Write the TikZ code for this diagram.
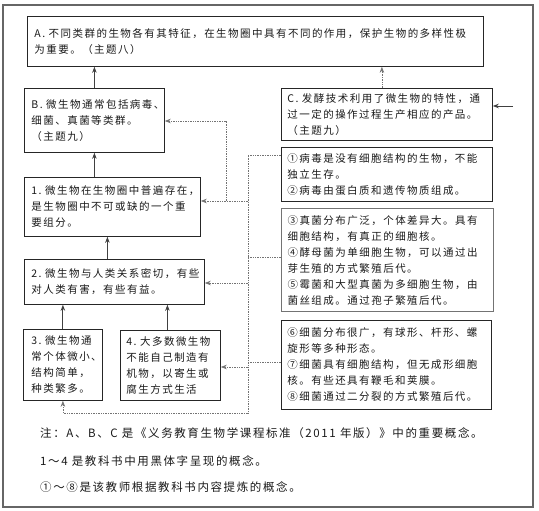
\documentclass[tikz,border=0pt]{standalone}
\usepackage{fontspec}
\newfontfamily\cjk[LetterSpace=14]{Noto Sans CJK SC}
\usetikzlibrary{arrows.meta,calc}
\begin{document}
\begin{tikzpicture}[x=1pt,y=-1pt,
  every node/.style={font=\fontsize{10.5}{16}\selectfont\cjk, text=black!90},
  box/.style={draw=black!85, line width=0.8pt, anchor=north west, align=left, inner ysep=2pt},
  notetext/.style={anchor=base west, inner sep=0pt, font=\fontsize{11.5}{16}\selectfont\cjk},
  arr/.style={draw=black!75, line width=0.9pt, -{Stealth[length=6pt,width=4.5pt]}},
  dotl/.style={draw=black!55, line width=0.7pt, densely dotted},
  dotarr/.style={dotl, -{Stealth[length=6pt,width=4.5pt]}}]
\useasboundingbox (0,0) rectangle (539,511);
\draw[black!60, line width=1.2pt] (3,5) rectangle (533,507);

\node[box, text width=442pt, inner xsep=7pt, minimum height=50pt] (A) at (27,16)
  {A.~不同类群的生物各有其特征，在生物圈中具有不同的作用，保护生物的多样性极\\为重要。（主题八）};
\node[box, text width=126pt, inner xsep=7pt, minimum height=64pt] (B) at (24,88)
  {\mbox{B.~微生物通常包括病毒、}\\细菌、真菌等类群。\\（主题九）};
\node[box, text width=199pt, inner xsep=6pt, minimum height=52pt] (C) at (281,88)
  {\mbox{C.~发酵技术利用了微生物的特性，通}\\过一定的操作过程生产相应的产品。\\（主题九）};
\node[box, text width=162pt, inner xsep=7pt, minimum height=59pt] (n1) at (24,177)
  {\mbox{1.~微生物在生物圈中普遍存在，}\\是生物圈中不可或缺的一个重\\要组分。};
\node[box, text width=166pt, inner xsep=7pt, minimum height=45pt] (n2) at (24,259)
  {\mbox{2.~微生物与人类关系密切，有些}\\对人类有害，有些有益。};
\node[box, text width=63pt, inner xsep=8pt, minimum height=71pt] (n3) at (23,329)
  {\mbox{3.~微生物通}\\常个体微小、\\结构简单，\\种类繁多。};
\node[box, text width=88pt, inner xsep=6pt, minimum height=70pt] (n4) at (120,330)
  {\mbox{4.~大多数微生物}\\不能自己制造有\\机物，以寄生或\\腐生方式生活};
\node[box, text width=199pt, inner xsep=6pt, minimum height=54pt] (c1) at (281,147)
  {①病毒是没有细胞结构的生物，不能\\独立生存。\\②病毒由蛋白质和遗传物质组成。};
\node[box, draw=black!55, line width=1.1pt, text width=200pt, inner xsep=6pt, minimum height=103pt] (c3) at (281,208)
  {③真菌分布广泛，个体差异大。具有\\细胞结构，有真正的细胞核。\\④酵母菌为单细胞生物，可以通过出\\芽生殖的方式繁殖后代。\\⑤霉菌和大型真菌为多细胞生物，由\\菌丝组成。通过孢子繁殖后代。};
\node[box, text width=198pt, inner xsep=6pt, minimum height=89pt] (c6) at (281,320)
  {⑥细菌分布很广，有球形、杆形、螺\\旋形等多种形态。\\⑦细菌具有细胞结构，但无成形细胞\\核。有些还具有鞭毛和荚膜。\\⑧细菌通过二分裂的方式繁殖后代。};

% solid arrows
\draw[arr] (B.north) -- (B.north |- A.south);
\draw[arr] (B.south |- n1.north) -- (B.south);
\draw[arr] ([xshift=-7pt]n2.north) -- ([xshift=-7pt]n2.north |- n1.south);
\draw[arr] (n3.north) -- (n3.north |- n2.south);
\draw[arr] ([xshift=-3pt]n4.north) -- ([xshift=-3pt]n4.north |- n2.south);
\draw[dotarr] ([xshift=-5pt]C.north) -- ([xshift=-5pt]C.north |- A.south);
\coordinate (cin) at (513,106);
\draw[arr] (cin) -- (cin -| C.east);

% dotted connectors
\coordinate (t1) at (248,155);
\coordinate (t3) at (248,257);
\coordinate (t6) at (248,362);
\coordinate (bot) at (248,413);
\coordinate (a1) at (248,201);
\coordinate (a2) at (248,283);
\coordinate (a4) at (248,367);
\coordinate (bj) at (226,201);
\coordinate (bB) at (226,121);
\draw[dotl] (c1.west |- t1) -- (t1) -- (bot);
\draw[dotarr] (bot) -| (n3.south);
\draw[dotl] (c3.west |- t3) -- (t3);
\draw[dotl] (c6.west |- t6) -- (t6);
\draw[dotarr] (a1) -- (a1 -| n1.east);
\draw[dotarr] (a2) -- (a2 -| n2.east);
\draw[dotarr] (a4) -- (a4 -| n4.east);
\draw[dotarr] (bj) -- (bB) -- (bB -| B.east);

% notes
\node[notetext] (note1) at (40,437) {注：A、B、C 是《义务教育生物学课程标准（2011 年版）》中的重要概念。};
\node[notetext] (note2) at (40,465) {1～4 是教科书中用黑体字呈现的概念。};
\node[notetext] (note3) at (40,491) {①～⑧是该教师根据教科书内容提炼的概念。};
\end{tikzpicture}
\end{document}
